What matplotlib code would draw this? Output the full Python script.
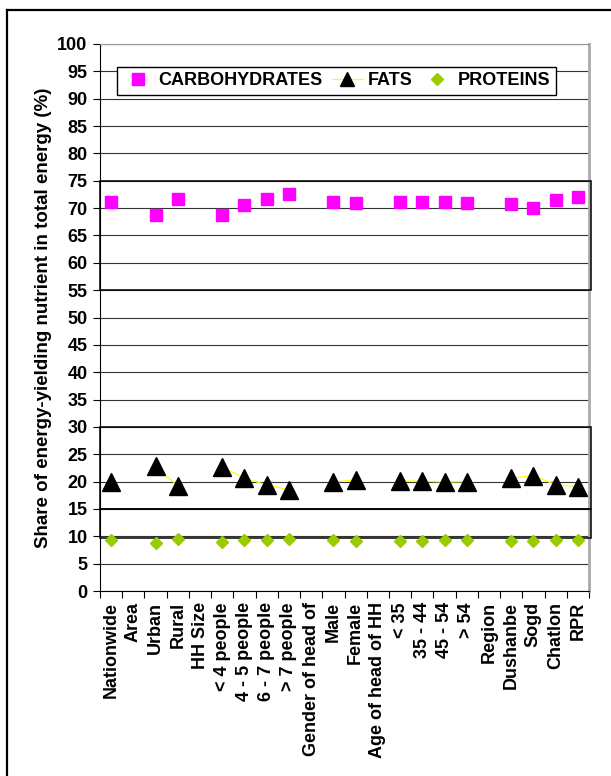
import numpy as np
import matplotlib
matplotlib.use("Agg")
import matplotlib.pyplot as plt
from matplotlib.patches import Rectangle
from matplotlib.lines import Line2D

plt.rcParams['font.family'] = ['Liberation Sans', 'DejaVu Sans']
plt.rcParams['font.weight'] = 'bold'

categories = ['Nationwide', 'Area', 'Urban', 'Rural', 'HH Size', '< 4 people',
              '4 - 5 people', '6 - 7 people', '> 7 people', 'Gender of head of',
              'Male', 'Female', 'Age of head of HH', '< 35', '35 - 44', '45 - 54',
              '> 54', 'Region', 'Dushanbe', 'Sogd', 'Chatlon', 'RPR']

nan = np.nan
carbs = [71.1, nan, 68.8, 71.7, nan, 68.8, 70.6, 71.6, 72.5, nan,
         71.2, 70.9, nan, 71.1, 71.1, 71.1, 71.0, nan, 70.7, 70.0, 71.5, 72.0]
fats = [20.0, nan, 22.8, 19.2, nan, 22.7, 20.6, 19.4, 18.5, nan,
        19.9, 20.3, nan, 20.1, 20.1, 19.9, 20.0, nan, 20.6, 21.1, 19.4, 19.1]
proteins = [9.3, nan, 8.7, 9.5, nan, 8.9, 9.3, 9.3, 9.5, nan,
            9.3, 9.1, nan, 9.2, 9.2, 9.4, 9.4, nan, 9.1, 9.2, 9.4, 9.3]

# horizontal bands outlined on the chart (lower, upper)
bands = [(55, 75), (15, 30), (9.7, 15)]

fig = plt.figure(figsize=(6.11, 7.76), dpi=100)
ax = fig.add_axes([0.1637, 0.2384, 0.8003, 0.7049])

x = np.arange(len(categories))
ax.plot(x, carbs, linestyle='none', marker='s', markersize=9, color='#FF00FF',
        label='CARBOHYDRATES', zorder=4)
ax.plot(x, fats, linestyle='-', linewidth=0.9, color='#FFFF00', marker='^',
        markersize=12.5, markerfacecolor='black', markeredgecolor='black',
        label='FATS', zorder=4)
ax.plot(x, proteins, linestyle='none', marker='D', markersize=6.3,
        color='#99CC00', label='PROTEINS', zorder=4)

for lo, hi in bands:
    ax.add_patch(Rectangle((-0.5, lo), len(categories) + 0.1, hi - lo,
                           facecolor='none', edgecolor='black', linewidth=1.1,
                           clip_on=False, zorder=3))

ax.set_xlim(-0.5, len(categories) - 0.5)
ax.set_ylim(0, 100)
ax.set_yticks(np.arange(0, 101, 5))
ax.yaxis.grid(True, color='#333333', linewidth=0.8)
ax.set_axisbelow(True)
ax.tick_params(axis='y', direction='out', length=5, width=0.8, labelsize=13, pad=4)

ax.set_xticks(x)
ax.set_xticklabels(categories, rotation=90, fontsize=13, fontweight='bold')
ax.set_xticks(np.arange(-0.5, len(categories), 1), minor=True)
ax.tick_params(axis='x', which='major', length=0, pad=8)
ax.tick_params(axis='x', which='minor', direction='out', length=5, width=0.8)

for lbl in ax.get_yticklabels():
    lbl.set_fontweight('bold')

ax.set_ylabel('Share of energy-yielding nutrient in total energy (%)',
              fontsize=13.5, fontweight='bold', labelpad=4)

ax.spines['left'].set_color('black')
ax.spines['bottom'].set_color('black')
ax.spines['top'].set_color('#999999')
ax.spines['right'].set_color('#AAAAAA')
ax.spines['right'].set_linewidth(2)

leg = ax.legend(loc='upper left', bbox_to_anchor=(0.035, 0.958), ncol=3,
                frameon=True, fancybox=False, edgecolor='black', framealpha=1,
                borderaxespad=0, prop={'size': 13, 'weight': 'bold'},
                handlelength=1.7, handletextpad=0.3, columnspacing=0.5,
                borderpad=0.3)
leg.get_frame().set_linewidth(1.0)
# legend symbols are drawn a little smaller than the plotted ones
for h, ms in zip(leg.legend_handles, [9, 9.5, 6.3]):
    h.set_markersize(ms)

# outer frame lines (top and left)
fig.add_artist(Line2D([0.0115, 1.0], [0.987, 0.987], color='black', linewidth=1.6))
fig.add_artist(Line2D([0.0115, 0.0115], [0.0, 0.987], color='black', linewidth=1.6))

fig.savefig('out.png', dpi=100)
